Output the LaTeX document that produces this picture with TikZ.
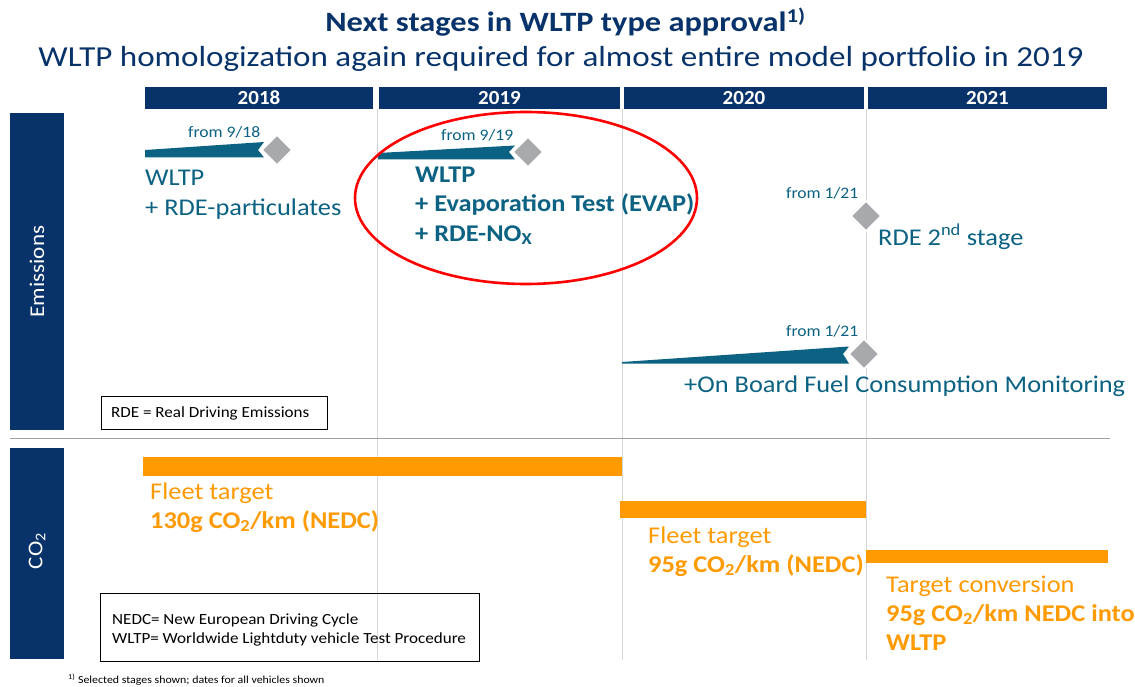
\documentclass[tikz,border=0pt]{standalone}
\usepackage{fontspec}
\setmainfont[FakeStretch=1.1]{Carlito}
\newfontfamily\titleAfont[FakeStretch=1.157]{Carlito}
\newfontfamily\titleBfont[FakeStretch=1.14]{Carlito}
\newfontfamily\yearfont[FakeStretch=1.05]{Carlito}
\definecolor{navy}{HTML}{08336A}
\definecolor{teal2}{HTML}{0B6283}
\definecolor{orng}{HTML}{FF9A00}
\definecolor{dgray}{HTML}{A7A9AD}
\definecolor{gridc}{HTML}{D6D6D6}
\definecolor{sepc}{HTML}{A0A0A0}
\newcommand\fsz[1]{\fontsize{#1}{#1}\selectfont}
\begin{document}
\begin{tikzpicture}[x=1pt,y=-1pt,
  txt/.style={anchor=base west, inner sep=0pt},
  tealtxt/.style={txt, text=teal2, font=\fsz{24}},
  tealbold/.style={txt, text=teal2, font=\fsz{24}\bfseries},
  fromtxt/.style={txt, text=teal2, font=\fsz{16}},
  orgtxt/.style={txt, text=orng, font=\fsz{24}},
  orgbold/.style={txt, text=orng, font=\fsz{24}\bfseries},
  yearbar/.style={fill=navy},
  yeartxt/.style={text=white, font=\yearfont\fsz{20}\bfseries, inner sep=0pt},
  sidebar/.style={fill=navy},
  sidetxt/.style={text=white, font=\fsz{21}, rotate=90, inner sep=0pt},
  wedge/.style={fill=teal2},
  milestone/.style={fill=dgray, draw=white, line width=1.5pt},
  gridline/.style={draw=gridc, line width=0.9pt},
  obar/.style={fill=orng},
  legbox/.style={draw=black, line width=1pt},
  legtxt/.style={txt, text=black, font=\fsz{15.5}}
]
\useasboundingbox[fill=white] (0,0) rectangle (1135,687);

% titles
\node[anchor=base, inner sep=0pt, text=navy, font=\titleAfont\fsz{28}\bfseries] (t1) at (565.5,32) {Next stages in WLTP type approval\textsuperscript{1)}};
\node[anchor=base, inner sep=0pt, text=navy, font=\titleBfont\fsz{29}] (t2) at (561,67) {WLTP homologization again required for almost entire model portfolio in 2019};

% grid lines
\draw[gridline] (377,109) -- (377,660);
\draw[gridline] (622,109) -- (622,660);
\draw[gridline] (866,109) -- (866,660);

% year bars
\fill[yearbar] (145,87) rectangle (373,109);
\fill[yearbar] (379,87) rectangle (620,109);
\fill[yearbar] (624,87) rectangle (864,109);
\fill[yearbar] (868,87) rectangle (1107,109);
\node[yeartxt] (y18) at (259,98) {2018};
\node[yeartxt] (y19) at (499.5,98) {2019};
\node[yeartxt] (y20) at (744,98) {2020};
\node[yeartxt] (y21) at (987.5,98) {2021};

% side bars
\fill[sidebar] (10,113) rectangle (64,430);
\fill[sidebar] (10,448) rectangle (64,659);
\node[sidetxt] (em) at (37,271.5) {Emissions};
\node[sidetxt] (co) at (37,551) {CO\textsubscript{2}};

% separator
\draw[draw=sepc, line width=1.3pt] (10,438.5) -- (1110,438.5);

% 2018 milestone
\fill[wedge] (145,150) -- (264,142) -- (258,150) -- (264,157.5) -- (145,157.5) -- cycle;
\path[milestone] (277,135) -- (292,150) -- (277,165) -- (262,150) -- cycle;
\node[fromtxt] (f18) at (188,138) {from 9/18};
\node[tealtxt] (a1) at (145,186) {WLTP};
\node[tealtxt] (a2) at (145,215) {+ RDE-particulates};

% 2019 milestone
\fill[wedge] (378,153) -- (515,145.5) -- (509,152) -- (515,159.5) -- (378,159.5) -- cycle;
\path[milestone] (528,137) -- (543,152) -- (528,167) -- (513,152) -- cycle;
\node[fromtxt] (f19) at (441,141) {from 9/19};
\node[tealbold] (b1) at (415,183) {WLTP};
\node[tealbold] (b2) at (415,212) {+ Evaporation Test (EVAP)};
\node[tealbold] (b3) at (415,241) {+ RDE-NO\textsubscript{X}};
\draw[red, line width=2.6pt] (526,198) ellipse [x radius=171pt, y radius=86pt];

% 2021 RDE 2nd stage
\path[milestone] (866,201) -- (881,216) -- (866,231) -- (851,216) -- cycle;
\node[fromtxt] (f21a) at (786,199) {from 1/21};
\node[tealtxt] (c1) at (878,245) {RDE 2\textsuperscript{nd} stage};

% On board fuel consumption
\fill[wedge] (622,362) -- (849,346.5) -- (843,354) -- (849,363.5) -- (622,363.5) -- cycle;
\path[milestone] (864,339) -- (879,354) -- (864,369) -- (849,354) -- cycle;
\node[fromtxt] (f21b) at (786,336) {from 1/21};
\node[tealtxt] (d1) at (684,392) {+On Board Fuel Consumption Monitoring};

% RDE legend
\draw[legbox] (101,396) rectangle (327,429);
\node[legtxt] (l1) at (111,417) {RDE = Real Driving Emissions};

% CO2 bars
\fill[obar] (143,457) rectangle (622,476);
\fill[obar] (620,501) rectangle (866,518);
\fill[obar] (866,550) rectangle (1108,563);
\node[orgtxt] (o1) at (150,499) {Fleet target};
\node[orgbold] (o2) at (150,528) {130g CO\textsubscript{2}/km (NEDC)};
\node[orgtxt] (p1) at (648,543) {Fleet target};
\node[orgbold] (p2) at (648,572) {95g CO\textsubscript{2}/km (NEDC)};
\node[orgtxt] (q1) at (886,592) {Target conversion};
\node[orgbold] (q2) at (886,621) {95g CO\textsubscript{2}/km NEDC into};
\node[orgbold] (q3) at (886,650) {WLTP};

% NEDC legend
\draw[legbox] (100,593) rectangle (479,661);
\node[legtxt] (n1) at (112,624) {NEDC= New European Driving Cycle};
\node[legtxt] (n2) at (112,643) {WLTP= Worldwide Lightduty vehicle Test Procedure};

% footnote
\node[txt, font=\fsz{10.8}] (fn) at (68,683) {\textsuperscript{1)} Selected stages shown; dates for all vehicles shown};
\end{tikzpicture}
\end{document}
